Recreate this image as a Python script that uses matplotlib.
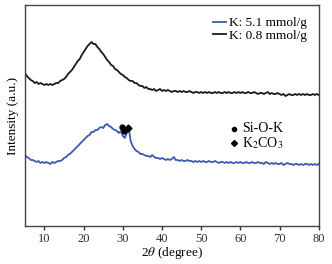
import matplotlib
matplotlib.use('Agg')
import matplotlib.pyplot as plt
import numpy as np

plt.rcParams['font.family'] = ['Liberation Serif', 'DejaVu Serif']
plt.rcParams['mathtext.fontset'] = 'stix'

# 2theta grid (degree), 0.5 step from 5 to 80
two_theta = np.arange(5, 80.01, 0.5)

# K: 0.8 mmol/g (black), intensity in a.u.
k08 = [153, 150, 148, 146, 145, 143, 144, 142, 143, 142,
       141, 142, 141, 142, 141, 142, 143, 143, 145, 146,
       147, 149, 152, 154, 156, 159, 162, 165, 167, 171,
       174, 177, 180, 182, 184, 182, 182, 179, 177, 174,
       172, 169, 166, 164, 161, 160, 157, 156, 154, 152,
       151, 149, 148, 146, 145, 145, 143, 143, 141, 140,
       140, 138, 139, 137, 137, 136, 137, 135, 136, 137,
       135, 136, 135, 136, 135, 134, 135, 135, 134, 135,
       134, 135, 134, 134, 135, 134, 133, 134, 134, 133,
       134, 133, 134, 133, 134, 133, 133, 134, 133, 134,
       133, 133, 134, 133, 134, 133, 133, 134, 133, 134,
       133, 134, 133, 133, 134, 133, 133, 134, 133, 132,
       133, 133, 132, 133, 134, 132, 133, 132, 132, 133,
       132, 131, 132, 130, 131, 132, 131, 131, 132, 131,
       132, 131, 132, 131, 132, 131, 131, 132, 131, 132,
       131]

# K: 5.1 mmol/g (blue)
k51 = [71, 69, 68, 66, 66, 65, 64, 65, 63, 64,
       63, 64, 63, 62, 64, 63, 64, 65, 65, 66,
       68, 69, 71, 72, 74, 76, 78, 80, 82, 84,
       86, 88, 90, 91, 94, 94, 96, 96, 98, 99,
       98, 101, 102, 100, 99, 97, 96, 95, 93, 95,
       90, 88, 93, 98, 85, 80, 77, 75, 74, 72,
       72, 71, 70, 70, 69, 71, 69, 68, 68, 67,
       68, 67, 66, 67, 66, 67, 69, 66, 66, 65,
       66, 65, 65, 66, 65, 65, 64, 65, 64, 65,
       64, 65, 64, 64, 65, 64, 64, 65, 64, 63,
       64, 64, 63, 64, 63, 64, 63, 63, 64, 63,
       64, 63, 63, 64, 63, 63, 64, 63, 63, 64,
       63, 63, 62, 64, 63, 62, 63, 62, 63, 62,
       62, 63, 61, 62, 63, 62, 62, 61, 62, 62,
       61, 62, 61, 62, 62, 61, 62, 61, 62, 61,
       62]

# phase markers on the 5.1 mmol/g pattern
sio_k_x = [29.7, 30.4]
sio_k_y = [99, 95]
k2co3_x = [31.4]
k2co3_y = [98]

fig = plt.figure(figsize=(3.32, 2.64), dpi=100)
ax = fig.add_axes([0.075, 0.144, 0.885, 0.837])

ax.plot(two_theta, k51, color='#3a5bb0', lw=1.3, label='K: 5.1 mmol/g')
ax.plot(two_theta, k08, color='#1a1a1a', lw=1.3, label='K: 0.8 mmol/g')
ax.plot(sio_k_x, sio_k_y, 'o', color='black', ms=3.5)
ax.plot(k2co3_x, k2co3_y, 'D', color='black', ms=3.5)

ax.set_xlim(5, 80)
ax.set_ylim(0, 221)
ax.set_xticks([10, 20, 30, 40, 50, 60, 70, 80])
ax.set_yticks([])
ax.tick_params(axis='x', direction='out', length=3, width=1, labelsize=9,
               pad=2, colors='#333333')
for s in ax.spines.values():
    s.set_color('#444444')
    s.set_linewidth(1)

ax.set_xlabel(r'2$\theta$ (degree)', fontsize=9.5, labelpad=0)
ax.set_ylabel('Intensity (a.u.)', fontsize=9.5, labelpad=4)

ax.legend(loc='upper right', frameon=False, fontsize=9.5, handlelength=1.0,
          handletextpad=0.2, borderaxespad=0.4, borderpad=0.5,
          labelspacing=0.05)

ax.plot([0.712], [0.439], 'o', color='black', ms=3, transform=ax.transAxes)
ax.plot([0.712], [0.376], 'D', color='black', ms=3, transform=ax.transAxes)
ax.text(0.739, 0.439, 'Si-O-K', fontsize=10, va='center', transform=ax.transAxes)
ax.text(0.739, 0.376, r'K$_2$CO$_3$', fontsize=10, va='center', transform=ax.transAxes)

fig.savefig('out.png', dpi=100)
